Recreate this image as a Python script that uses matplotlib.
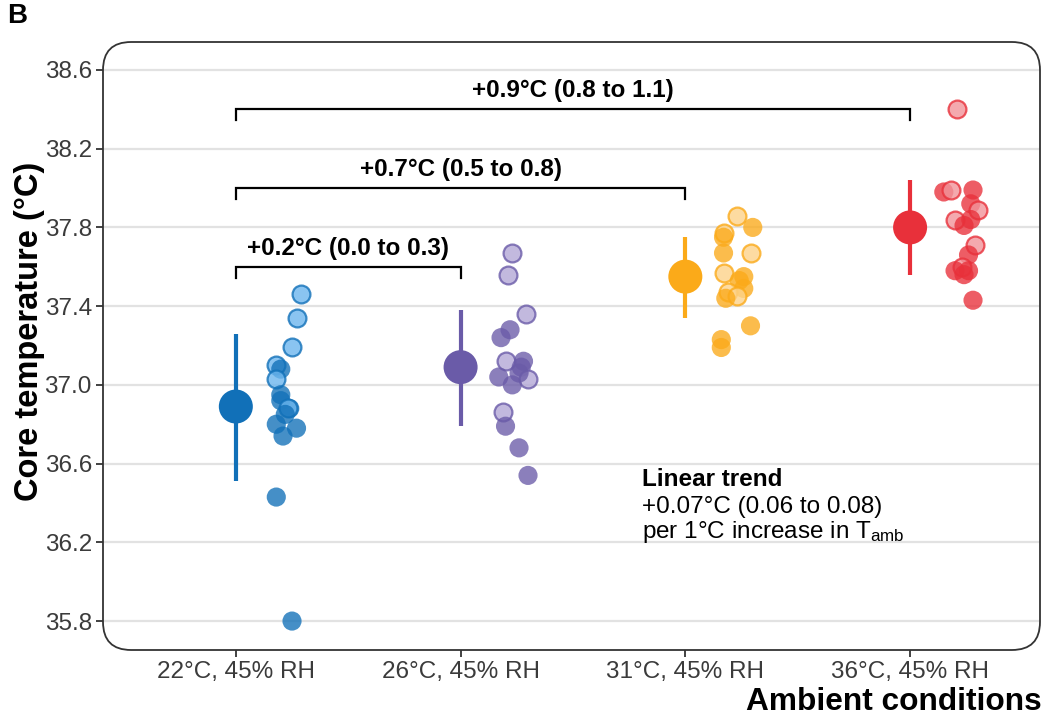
import matplotlib
matplotlib.use("Agg")
import matplotlib.pyplot as plt
from matplotlib.patches import FancyBboxPatch

plt.rcParams["font.family"] = ["Liberation Sans", "DejaVu Sans"]
plt.rcParams["mathtext.default"] = "regular"

# ── Data ──────────────────────────────────────────────────────────────────────

CONDITIONS = ["22°C, 45% RH", "26°C, 45% RH", "31°C, 45% RH", "36°C, 45% RH"]
COLORS = ["#1170B8", "#6A5BA8", "#FBAA19", "#E8303A"]
LIGHT_COLORS = ["#6DB6EE", "#B3A8D6", "#FDD38A", "#F2949A"]

# model estimates and 95% intervals per condition
MEANS = [36.89, 37.09, 37.55, 37.80]
CI_LOW = [36.51, 36.79, 37.34, 37.56]
CI_HIGH = [37.26, 37.38, 37.75, 38.04]

# individual core temperatures (°C)
T_22 = [37.46, 37.34, 37.19, 37.10, 37.08, 37.03, 36.95, 36.92, 36.88, 36.88,
        36.85, 36.80, 36.78, 36.74, 36.43, 35.80]
T_26 = [37.67, 37.56, 37.36, 37.28, 37.24, 37.12, 37.12, 37.09, 37.04, 37.03,
        37.06, 37.00, 36.86, 36.79, 36.68, 36.54]
T_31 = [37.86, 37.80, 37.77, 37.75, 37.67, 37.67, 37.57, 37.55, 37.53, 37.49,
        37.47, 37.45, 37.44, 37.30, 37.23, 37.19]
T_36 = [38.40, 37.98, 37.99, 37.99, 37.92, 37.89, 37.84, 37.84, 37.81, 37.71,
        37.66, 37.60, 37.58, 37.58, 37.56, 37.43]

# horizontal jitter next to each condition
JIT_22 = [0.29, 0.27, 0.25, 0.18, 0.20, 0.18, 0.20, 0.20, 0.24, 0.23,
          0.22, 0.18, 0.27, 0.21, 0.18, 0.25]
JIT_26 = [0.23, 0.21, 0.29, 0.22, 0.18, 0.20, 0.28, 0.27, 0.17, 0.30,
          0.26, 0.23, 0.19, 0.20, 0.26, 0.30]
JIT_31 = [0.23, 0.30, 0.17, 0.17, 0.17, 0.29, 0.17, 0.26, 0.24, 0.26,
          0.19, 0.23, 0.18, 0.29, 0.16, 0.16]
JIT_36 = [0.21, 0.15, 0.18, 0.28, 0.27, 0.30, 0.20, 0.27, 0.24, 0.29,
          0.26, 0.23, 0.20, 0.26, 0.24, 0.28]

# second participant group (open markers)
OPEN_22 = [1, 1, 1, 1, 0, 1, 0, 0, 0, 1, 0, 0, 0, 0, 0, 0]
OPEN_26 = [1, 1, 1, 0, 0, 1, 0, 0, 0, 1, 0, 0, 1, 0, 0, 0]
OPEN_31 = [1, 0, 1, 0, 0, 1, 1, 0, 0, 0, 1, 1, 0, 0, 0, 0]
OPEN_36 = [1, 0, 1, 0, 0, 1, 1, 0, 0, 1, 0, 1, 0, 0, 0, 0]

TEMPS = [T_22, T_26, T_31, T_36]
JITTER = [JIT_22, JIT_26, JIT_31, JIT_36]
OPEN = [OPEN_22, OPEN_26, OPEN_31, OPEN_36]

# pairwise contrasts vs 22°C: (to condition index, label, bracket height)
CONTRASTS = [
    (1, "+0.2°C (0.0 to 0.3)", 37.60),
    (2, "+0.7°C (0.5 to 0.8)", 38.00),
    (3, "+0.9°C (0.8 to 1.1)", 38.40),
]

YTICKS = [35.8, 36.2, 36.6, 37.0, 37.4, 37.8, 38.2, 38.6]

# ── Figure ────────────────────────────────────────────────────────────────────

W, H = 1043, 716
fig = plt.figure(figsize=(W / 100, H / 100), dpi=100)
ax_w, ax_h = 937, 608
ax = fig.add_axes([103 / W, 66 / H, ax_w / W, ax_h / H])

xpos = [1, 2, 3, 4]
ax.set_xlim(0.409, 4.578)
ax.set_ylim(35.653, 38.742)

for s in ax.spines.values():
    s.set_visible(False)

panel = FancyBboxPatch((0, 0), 1, 1, boxstyle="round,pad=0,rounding_size=0.03",
                       transform=ax.transAxes, mutation_aspect=ax_w / ax_h,
                       fill=False, ec="#333333", lw=1.3, clip_on=False, zorder=6)
ax.add_patch(panel)

ax.set_yticks(YTICKS)
ax.set_yticklabels([f"{v:.1f}" for v in YTICKS])
ax.set_xticks(xpos)
ax.set_xticklabels(CONDITIONS)
ax.tick_params(direction="out", length=5, width=1.3, color="#333333",
               labelsize=17.5, labelcolor="#3b3b3b", pad=3)
ax.yaxis.grid(True, color="#e2e2e2", lw=1.6, zorder=0)
ax.set_axisbelow(True)

# individual observations
for i in range(4):
    for t, j, o in zip(TEMPS[i], JITTER[i], OPEN[i]):
        if o:
            ax.scatter(xpos[i] + j, t, s=165, facecolor=LIGHT_COLORS[i],
                       edgecolor=COLORS[i], linewidth=1.6, alpha=0.8, zorder=3)
        else:
            ax.scatter(xpos[i] + j, t, s=190, color=COLORS[i], alpha=0.78,
                       edgecolors="none", zorder=3)

# estimates with intervals
for i in range(4):
    ax.vlines(xpos[i], CI_LOW[i], CI_HIGH[i], color=COLORS[i], lw=3, zorder=4)
    ax.scatter(xpos[i], MEANS[i], s=600, color=COLORS[i], edgecolors="none", zorder=4)

# contrast brackets
for k, label, yb in CONTRASTS:
    x1, x2 = xpos[0], xpos[k]
    ax.plot([x1, x1, x2, x2], [yb - 0.055, yb, yb, yb - 0.055],
            color="black", lw=1.6, solid_joinstyle="miter", zorder=5)
    ax.text((x1 + x2) / 2, yb + 0.095, label, ha="center", va="center",
            fontsize=17.5, fontweight="bold", zorder=5)

# linear trend annotation
ax.text(2.808, 36.517, "Linear trend", ha="left", va="center",
        fontsize=17.5, fontweight="bold")
ax.text(2.808, 36.381, "+0.07°C (0.06 to 0.08)", ha="left", va="center", fontsize=17.5)
ax.text(2.808, 36.254, "per 1°C increase in T$_{amb}$", ha="left", va="center",
        fontsize=17.5)

fig.text(30 / W, 1 - 331 / H, "Core temperature (°C)", rotation=90,
         ha="center", va="center", fontsize=23.5, fontweight="bold")
fig.text(1042 / W, 1 - 702 / H, "Ambient conditions", ha="right", va="center",
         fontsize=22.8, fontweight="bold")
fig.text(7 / W, 1 - 3 / H, "B", ha="left", va="top", fontsize=20, fontweight="bold")

fig.savefig("out.png", dpi=100)
